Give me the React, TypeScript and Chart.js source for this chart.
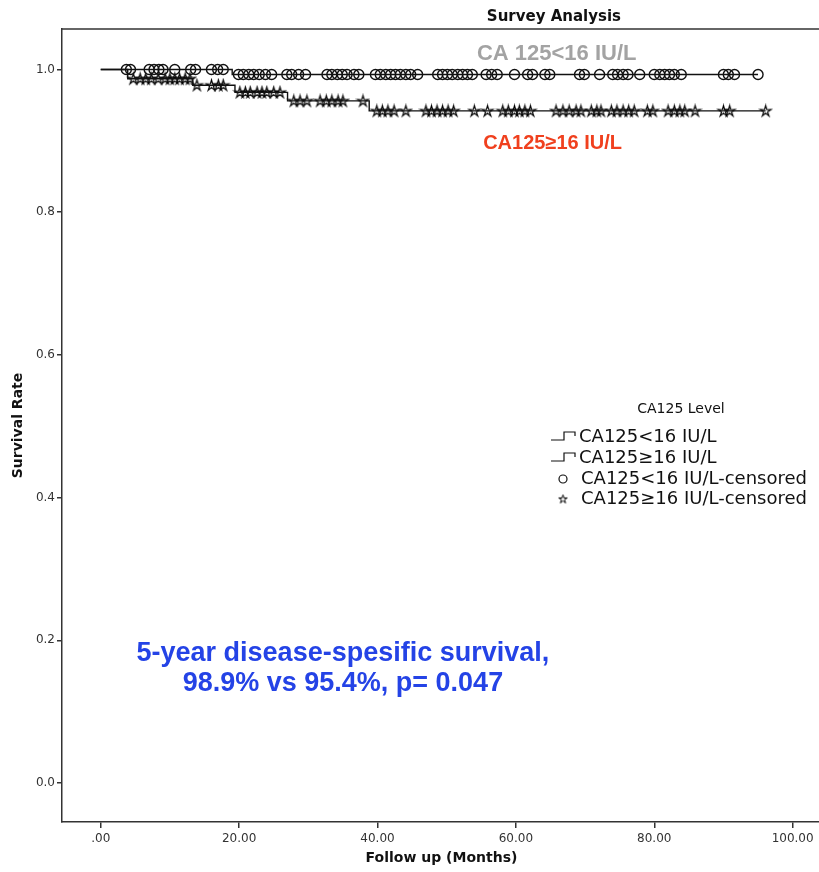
import React, { useEffect, useRef } from "react";
import { Chart, registerables } from "chart.js";
Chart.register(...registerables);

// ---------- data ----------
const xTicks = [0, 20, 40, 60, 80, 100];
const yTicks = [0, 0.2, 0.4, 0.6, 0.8, 1.0];

const lowLabel = "CA125<16 IU/L";
const highLabel = "CA125≥16 IU/L";
const lowCensLabel = "CA125<16 IU/L-censored";
const highCensLabel = "CA125≥16 IU/L-censored";

const lowTimes = [0, 19.0, 95.0];
const lowSurv = [1, 0.993, 0.993];
const highTimes = [0, 3.9, 13.3, 19.4, 27.0, 38.8, 96.1];
const highSurv = [1, 0.987, 0.978, 0.968, 0.956, 0.942, 0.942];

const lowCensored = [
  3.7, 4.3, 7.0, 7.7, 8.4, 9.0, 10.7, 13.0, 13.7, 16.0, 16.9, 17.7, 19.9, 20.6, 21.4, 22.1, 22.9, 23.8,
  24.7, 26.9, 27.6, 28.6, 29.6, 32.7, 33.4, 34.2, 34.9, 35.6, 36.6, 37.3, 39.7, 40.4, 41.2, 41.9, 42.6,
  43.3, 44.1, 44.8, 45.8, 48.7, 49.4, 50.1, 50.8, 51.6, 52.3, 53.0, 53.7, 55.7, 56.5, 57.3, 59.8, 61.7,
  62.4, 64.2, 64.9, 69.2, 69.9, 72.1, 74.0, 74.7, 75.5, 76.2, 77.9, 80.0, 80.8, 81.5, 82.2, 82.9, 83.9,
  90.0, 90.7, 91.6, 95.0,
];
const highCensored = [
  4.7, 5.7, 6.5, 7.3, 8.3, 9.3, 10.0, 10.7, 11.4, 12.2, 12.9, 13.9, 16.0, 17.0, 17.7, 20.1, 20.9, 21.6,
  22.6, 23.3, 24.0, 25.0, 25.9, 27.9, 28.8, 29.8, 31.7, 32.6, 33.4, 34.3, 35.0, 37.9, 39.9, 40.7, 41.5,
  42.4, 44.1, 47.0, 47.8, 48.6, 49.4, 50.2, 51.0, 54.0, 55.9, 58.1, 58.9, 59.8, 60.5, 61.3, 62.1, 65.8,
  66.8, 67.7, 68.7, 69.4, 70.9, 71.7, 72.3, 73.8, 74.6, 75.5, 76.3, 77.1, 79.0, 79.8, 82.0, 82.9, 83.7,
  84.4, 85.9, 90.0, 90.9, 96.1,
];

const chartTitle = "Survey Analysis";
const xTitle = "Follow up (Months)";
const yTitle = "Survival Rate";
const legendTitle = "CA125 Level";
const grayNote = "CA 125<16 IU/L";
const redNote = "CA125≥16 IU/L";
const blueNote = ["5-year disease-spesific survival,", "98.9% vs 95.4%, p= 0.047"];

// ---------- helpers ----------
function survivalAt(times: number[], surv: number[], t: number) {
  let v = surv[0];
  for (let i = 0; i < times.length; i++) if (times[i] <= t) v = surv[i];
  return v;
}

function makeStar(outer: number, inner: number, lw: number): HTMLCanvasElement {
  const c = document.createElement("canvas");
  c.width = 15;
  c.height = 15;
  const ctx = c.getContext("2d")!;
  ctx.strokeStyle = "#000";
  ctx.lineWidth = lw;
  ctx.beginPath();
  for (let i = 0; i < 10; i++) {
    const r = i % 2 === 0 ? outer : inner;
    const a = -Math.PI / 2 + (i * Math.PI) / 5;
    const x = 7.5 + r * Math.cos(a);
    const y = 7.8 + r * Math.sin(a);
    if (i === 0) ctx.moveTo(x, y);
    else ctx.lineTo(x, y);
  }
  ctx.closePath();
  ctx.stroke();
  return c;
}

function drawStep(ctx: CanvasRenderingContext2D, x: number, y: number) {
  ctx.beginPath();
  ctx.moveTo(x, y + 3);
  ctx.lineTo(x + 13, y + 3);
  ctx.lineTo(x + 13, y - 5);
  ctx.lineTo(x + 24, y - 5);
  ctx.lineTo(x + 24, y - 1);
  ctx.stroke();
}

const App: React.FC = () => {
  const ref = useRef<HTMLCanvasElement | null>(null);

  useEffect(() => {
    if (!ref.current) return;
    const star = makeStar(5.8, 2.0, 1.1);
    const legendStar = makeStar(4.5, 1.6, 1.0);

    const framePlugin = {
      id: "frame",
      afterDraw(chart: any) {
        const { ctx, chartArea, scales } = chart;
        const x = scales.x;
        const y = scales.y;
        ctx.save();
        // top frame line
        ctx.strokeStyle = "#333";
        ctx.lineWidth = 1.5;
        ctx.beginPath();
        ctx.moveTo(chartArea.left, chartArea.top);
        ctx.lineTo(chartArea.right + 5, chartArea.top);
        ctx.stroke();

        // chart title
        ctx.fillStyle = "#111";
        ctx.font = "bold 15px 'DejaVu Sans'";
        ctx.textAlign = "center";
        ctx.textBaseline = "middle";
        ctx.fillText(chartTitle, x.getPixelForValue(65.5), 17);

        // notes
        ctx.font = "bold 22px 'Liberation Sans'";
        ctx.fillStyle = "#a3a3a3";
        ctx.fillText(grayNote, x.getPixelForValue(65.9), y.getPixelForValue(1.022));
        ctx.font = "bold 20px 'Liberation Sans'";
        ctx.fillStyle = "#f0401e";
        ctx.fillText(redNote, x.getPixelForValue(65.3), y.getPixelForValue(0.896));
        ctx.font = "bold 27px 'Liberation Sans'";
        ctx.fillStyle = "#2443e6";
        ctx.fillText(blueNote[0], x.getPixelForValue(35.0), y.getPixelForValue(0.182));
        ctx.fillText(blueNote[1], x.getPixelForValue(35.0), y.getPixelForValue(0.14));

        // legend
        const ds = chart.data.datasets;
        const lx = 551;
        ctx.fillStyle = "#111";
        ctx.font = "14px 'DejaVu Sans'";
        ctx.textAlign = "center";
        ctx.fillText(legendTitle, 681, 409);
        ctx.font = "18px 'DejaVu Sans'";
        ctx.textAlign = "left";
        const rows = [437, 458, 479, 499];
        ctx.strokeStyle = "#111";
        ctx.lineWidth = 1.2;
        drawStep(ctx, lx, rows[0]);
        drawStep(ctx, lx, rows[1]);
        ctx.fillText(ds[0].label, lx + 28, rows[0]);
        ctx.fillText(ds[1].label, lx + 28, rows[1]);
        ctx.beginPath();
        ctx.arc(lx + 12, rows[2], 4, 0, Math.PI * 2);
        ctx.stroke();
        ctx.drawImage(legendStar, lx + 12 - 7.5, rows[3] - 7.5);
        ctx.fillText(ds[2].label, lx + 30, rows[2]);
        ctx.fillText(ds[3].label, lx + 30, rows[3]);
        ctx.restore();
      },
    };

    const chart = new Chart(ref.current, {
      type: "scatter",
      data: {
        datasets: [
          {
            label: lowLabel,
            data: lowTimes.map((t, i) => ({ x: t, y: lowSurv[i] })),
            showLine: true,
            stepped: "before",
            borderColor: "#111",
            borderWidth: 1.4,
            pointRadius: 0,
          },
          {
            label: highLabel,
            data: highTimes.map((t, i) => ({ x: t, y: highSurv[i] })),
            showLine: true,
            stepped: "before",
            borderColor: "#111",
            borderWidth: 1.4,
            pointRadius: 0,
          },
          {
            label: lowCensLabel,
            data: lowCensored.map((t) => ({ x: t, y: survivalAt(lowTimes, lowSurv, t) })),
            showLine: false,
            pointStyle: "circle",
            pointRadius: 5,
            borderColor: "#111",
            backgroundColor: "rgba(0,0,0,0)",
            borderWidth: 1.4,
          },
          {
            label: highCensLabel,
            data: highCensored.map((t) => ({ x: t, y: survivalAt(highTimes, highSurv, t) })),
            showLine: false,
            pointStyle: star as any,
            pointRadius: 7,
          },
        ],
      } as any,
      options: {
        responsive: false,
        animation: false,
        devicePixelRatio: 1,
        layout: { padding: { top: 29, right: 0, left: 0, bottom: 0 } },
        plugins: {
          legend: { display: false },
          tooltip: { enabled: false },
          title: { display: false },
        },
        scales: {
          x: {
            type: "linear",
            min: -5.6,
            max: 104.1,
            afterBuildTicks: (s: any) => {
              s.ticks = xTicks.map((v) => ({ value: v }));
            },
            afterFit: (s: any) => {
              s.height = 50;
            },
            ticks: {
              color: "#333",
              font: { family: "'DejaVu Sans'", size: 12 },
              padding: 4,
              maxRotation: 0,
              callback: (v: any) => (Number(v) === 0 ? ".00" : Number(v).toFixed(2)),
            },
            grid: { display: true, drawOnChartArea: false, drawTicks: true, tickLength: 6, color: "#333", lineWidth: 1.5 },
            border: { display: true, color: "#333", width: 1.5 },
            title: {
              display: true,
              text: xTitle,
              color: "#111",
              font: { family: "'DejaVu Sans'", size: 14, weight: "bold" },
              padding: { top: 0, bottom: 5 },
            },
          },
          y: {
            type: "linear",
            min: -0.0547,
            max: 1.0568,
            afterBuildTicks: (s: any) => {
              s.ticks = yTicks.map((v) => ({ value: v }));
            },
            afterFit: (s: any) => {
              s.width = 62;
            },
            ticks: {
              color: "#333",
              font: { family: "'DejaVu Sans'", size: 12 },
              padding: 2,
              callback: (v: any) => Number(v).toFixed(1),
            },
            grid: { display: true, drawOnChartArea: false, drawTicks: true, tickLength: 5, color: "#333", lineWidth: 1.5 },
            border: { display: true, color: "#333", width: 1.5 },
            title: {
              display: true,
              text: yTitle,
              color: "#111",
              font: { family: "'DejaVu Sans'", size: 14, weight: "bold" },
              padding: { top: 10, bottom: 0 },
            },
          },
        },
      } as any,
      plugins: [framePlugin],
    });
    return () => chart.destroy();
  }, []);

  return (
    <div style={{ position: "fixed", left: 0, top: 0, width: 819, height: 872, overflow: "hidden", background: "#fff" }}>
      <canvas ref={ref} width={829} height={872} style={{ width: 829, height: 872, display: "block" }} />
    </div>
  );
};

export default App;
